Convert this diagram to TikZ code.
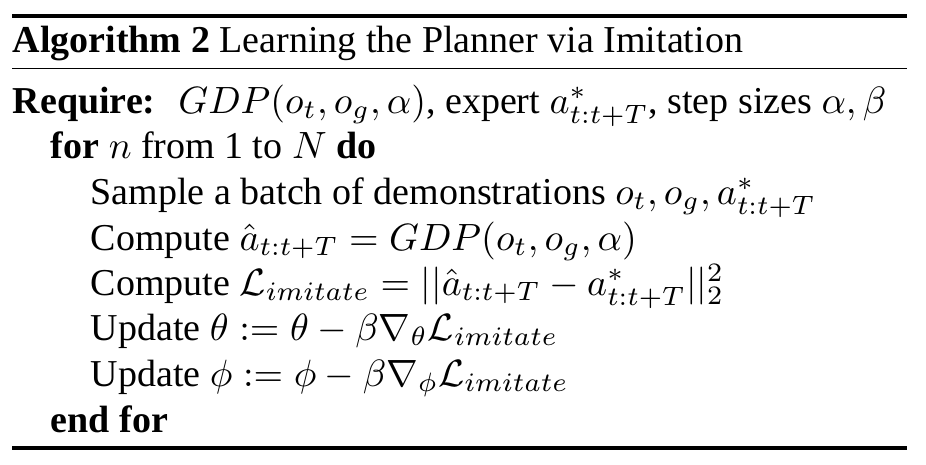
\documentclass[tikz,border=0pt]{standalone}
\usepackage{amsmath}
\usepackage[no-math]{fontspec}
\setmainfont{Liberation Serif}
\begin{document}
\begin{tikzpicture}[x=0.26316pt,y=-0.26316pt,
  algline/.style={anchor=base west, inner sep=0pt, font=\fontsize{10}{12}\selectfont},
  thickrule/.style={line width=0.8pt},
  thinrule/.style={line width=0.4pt}]
\useasboundingbox (0,0) rectangle (926,464);
\coordinate (tl) at (12,16);   \coordinate (tr) at (907,16);
\coordinate (ml) at (12,68.5); \coordinate (mr) at (907,68.5);
\coordinate (bl) at (12,448);  \coordinate (br) at (907,448);
\draw[thickrule] (tl) -- (tr);
\draw[thinrule] (ml) -- (mr);
\draw[thickrule] (bl) -- (br);
\node[algline] (cap) at (12,52) {\textbf{Algorithm 2} Learning the Planner via Imitation};
\node[algline] (req) at (12,113) {\textbf{Require:}\hspace{6pt}$GDP(o_t,o_g,\alpha)$, expert $a^*_{t:t+T}$, step sizes $\alpha,\beta$};
\node[algline] (for) at (50,158) {\textbf{for} $n$ from 1 to $N$ \textbf{do}};
\node[algline] (s1) at (90,204) {Sample a batch of demonstrations $o_t,o_g,a^*_{t:t+T}$};
\node[algline] (s2) at (90,250) {Compute $\hat{a}_{t:t+T} = GDP(o_t,o_g,\alpha)$};
\node[algline] (s3) at (90,295) {Compute $\mathcal{L}_{imitate} = ||\hat{a}_{t:t+T} - a^*_{t:t+T}||_2^2$};
\node[algline] (s4) at (90,340) {Update $\theta := \theta - \beta\nabla_\theta\mathcal{L}_{imitate}$};
\node[algline] (s5) at (90,386) {Update $\phi := \phi - \beta\nabla_\phi\mathcal{L}_{imitate}$};
\node[algline] (ef) at (50,432) {\textbf{end for}};
\end{tikzpicture}
\end{document}
